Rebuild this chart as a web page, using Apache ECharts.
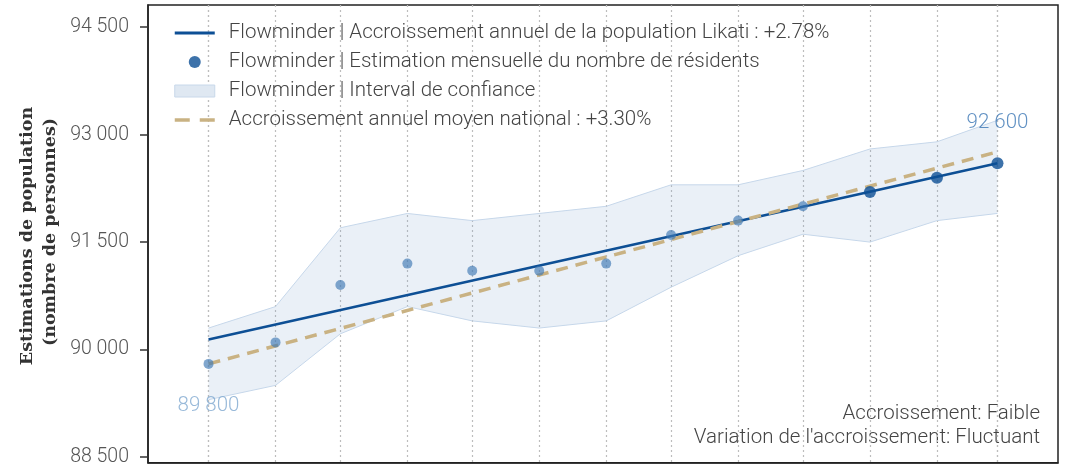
<!DOCTYPE html>
<html>
<head>
<meta charset="utf-8">
<script src="https://cdn.jsdelivr.net/npm/echarts@6/dist/echarts.min.js"></script>
<style>
  html, body { margin: 0; background: #fff; }
  #chart { width: 1071px; height: 467px; }
</style>
</head>
<body>
<div id="chart"></div>
<script>
// monthly estimates (dates read from the spacing of the grid lines)
const months = [
  '2022-03-01', '2022-04-01', '2022-05-01', '2022-06-01', '2022-07-01',
  '2022-08-01', '2022-09-01', '2022-10-01', '2022-11-01', '2022-12-01',
  '2023-01-01', '2023-02-01', '2023-03-01',
];
const estimates = [89800, 90100, 90900, 91200, 91100, 91100, 91200, 91600, 91800, 92000, 92200, 92400, 92600];
const upperBound = [90300, 90600, 91700, 91900, 91800, 91900, 92000, 92300, 92300, 92500, 92800, 92900, 93200];
const lowerBound = [89300, 89500, 90220, 90600, 90400, 90300, 90400, 90870, 91310, 91610, 91500, 91800, 91900];
// start / end of the two growth lines
const trendEnds = [90140, 92600];
const nationalEnds = [89800, 92760];
const yTicks = [88500, 90000, 91500, 93000, 94500];

const names = {
  trend: 'Flowminder | Accroissement annuel de la population Likati : +2.78%',
  points: 'Flowminder | Estimation mensuelle du nombre de résidents',
  band: 'Flowminder | Interval de confiance',
  national: 'Accroissement annuel moyen national : +3.30%',
};

const DARK = '#0d4f95';
const LIGHT = 'rgba(62, 120, 180, 0.82)';
const TAN = '#c9b283';
const DAY = 86400000;
const fmt = (v) => String(Math.round(v)).replace(/\B(?=(\d{3})+(?!\d))/g, ' ');
const font = 'Roboto, "Noto Sans", sans-serif';

const times = months.map((m) => new Date(m + 'T00:00:00Z').getTime());
const last = times.length - 1;

const pointData = times.map((t, i) => {
  const item = { value: [t, estimates[i]] };
  if (i === 0) {
    item.label = { show: true, position: 'bottom', distance: 26, color: '#7ea7cf' };
  } else if (i === last) {
    item.label = { show: true, position: 'top', distance: 24, color: '#3a76b4' };
  }
  return item;
});

const chart = echarts.init(document.getElementById('chart'));
chart.setOption({
  animation: false,
  grid: {
    left: 148, right: 13, top: 5, bottom: 2,
    show: true, borderColor: '#222', borderWidth: 1.5,
  },
  legend: {
    left: 173, top: 22, orient: 'vertical', padding: 0,
    itemWidth: 40, itemHeight: 12, itemGap: 7,
    textStyle: {
      fontFamily: font, fontSize: 20.5, fontWeight: 300, color: '#444',
      lineHeight: 22, padding: [0, 0, 0, 9],
    },
    data: [
      { name: names.trend, itemStyle: { opacity: 0 }, lineStyle: { width: 3 } },
      { name: names.points, icon: 'circle', itemStyle: { color: DARK } },
      { name: names.band, icon: 'rect', itemStyle: { color: '#dfe8f2', borderColor: '#c8d8ea', borderWidth: 1 } },
      { name: names.national, itemStyle: { opacity: 0 }, lineStyle: { width: 3.5, type: [15, 10] } },
    ],
  },
  xAxis: {
    type: 'time',
    min: (v) => v.min - 28 * DAY,
    max: (v) => v.max + 28 * DAY,
    axisLine: { lineStyle: { color: '#222', width: 1.5 } },
    axisTick: { show: false, customValues: times },
    axisLabel: { show: false, customValues: times },
    splitLine: { show: true, lineStyle: { color: '#bdbdbd', type: [2, 3], width: 1.2 } },
  },
  yAxis: {
    type: 'value',
    min: 88420, max: 94810,
    axisLine: { show: true, lineStyle: { color: '#222', width: 1.5 } },
    axisTick: { show: true, length: 8, customValues: yTicks, lineStyle: { color: '#333', width: 1.5 } },
    axisLabel: {
      customValues: yTicks, margin: 19, formatter: fmt,
      fontFamily: font, fontSize: 19.5, fontWeight: 300, color: '#555',
    },
    splitLine: { show: false },
  },
  series: [
    {
      name: names.band, type: 'line', stack: 'band', symbol: 'none',
      data: times.map((t, i) => [t, lowerBound[i]]),
      lineStyle: { color: '#c6d7ea', width: 1 },
      z: 1,
    },
    {
      name: names.band, type: 'line', stack: 'band', symbol: 'none',
      data: times.map((t, i) => [t, upperBound[i] - lowerBound[i]]),
      lineStyle: { color: '#c6d7ea', width: 1 },
      areaStyle: { color: 'rgba(120, 160, 205, 0.22)' },
      z: 1,
    },
    {
      name: names.trend, type: 'line', symbol: 'none',
      data: [[times[0], trendEnds[0]], [times[last], trendEnds[1]]],
      lineStyle: { color: DARK, width: 2.5 },
      z: 3,
    },
    {
      name: names.national, type: 'line', symbol: 'none',
      data: [[times[0], nationalEnds[0]], [times[last], nationalEnds[1]]],
      lineStyle: { color: TAN, width: 3.5, type: [12, 8] },
      z: 4,
    },
    {
      name: names.points, type: 'scatter',
      data: pointData,
      symbolSize: (v, p) => (p.dataIndex >= last - 2 ? 12 : 10),
      itemStyle: { color: (p) => (p.dataIndex >= last - 2 ? DARK : LIGHT) },
      label: { fontFamily: font, fontSize: 20.5, fontWeight: 300, formatter: (p) => fmt(p.value[1]) },
      z: 5,
    },
  ],
  graphic: [
    {
      type: 'text', x: 27, y: 236, rotation: Math.PI / 2,
      style: { text: 'Estimations de population', fontFamily: '"DejaVu Serif", serif', fontWeight: 'bold', fontSize: 17.5, fill: '#333', align: 'center', verticalAlign: 'middle' },
    },
    {
      type: 'text', x: 50, y: 232, rotation: Math.PI / 2,
      style: { text: '(nombre de personnes)', fontFamily: '"DejaVu Serif", serif', fontWeight: 'bold', fontSize: 17.5, fill: '#333', align: 'center', verticalAlign: 'middle' },
    },
    {
      type: 'text', x: 1040, y: 414,
      style: { text: 'Accroissement: Faible', fontFamily: font, fontSize: 20.5, fontWeight: 300, fill: '#444', align: 'right', verticalAlign: 'middle' },
    },
    {
      type: 'text', x: 1040, y: 438,
      style: { text: "Variation de l'accroissement: Fluctuant", fontFamily: font, fontSize: 20.5, fontWeight: 300, fill: '#444', align: 'right', verticalAlign: 'middle' },
    },
  ],
});
</script>
</body>
</html>
